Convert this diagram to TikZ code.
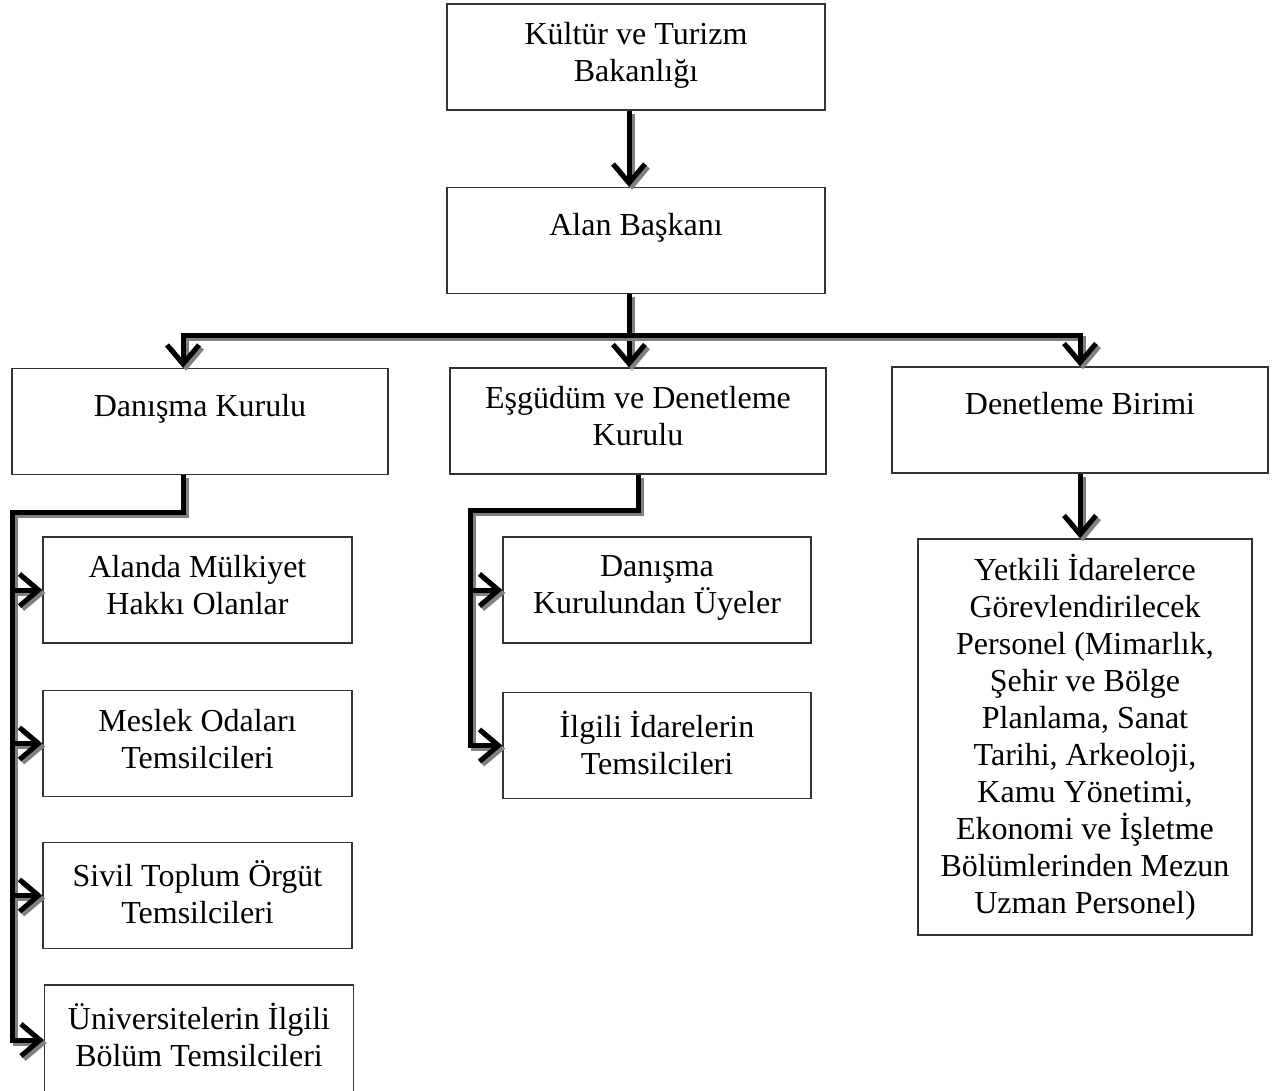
\documentclass[tikz,border=0pt]{standalone}
\usepackage{fontspec}
\setmainfont{Liberation Serif}
\usetikzlibrary{arrows.meta,positioning}

\begin{document}
\begin{tikzpicture}[x=1pt,y=-1pt,
kutu/.style={draw=black!80,line width=1.3pt,minimum width=#1,minimum height=106pt,inner sep=0pt},
kutu/.default=378pt,
yazi/.style={align=center,inner sep=0pt,font=\fontsize{32}{37}\selectfont,execute at begin node={\rule{0pt}{29pt}}},
hat/.style={line width=5pt,preaction={draw=black!50,line width=5pt,transform canvas={xshift=3pt,yshift=-3pt}}},
ok/.style={hat,-{Straight Barb[length=19pt,width=32pt]}}]
\useasboundingbox(0,0)rectangle(1273,1090);
% kutular
\node[kutu](bakanlik)at(636,57){};
\node[kutu](alan)at(636,240.5){};
\node[kutu=376pt](danisma)at(200,421.5){};
\node[kutu=376pt](esgudum)at(638,421){};
\node[kutu=376pt](denetleme)at(1080,420){};
\node[kutu=309pt](alanda)at(197.5,590){};
\node[kutu=309pt](meslek)at(197.5,743.5){};
\node[kutu=309pt](sivil)at(197.5,895.5){};
\node[kutu=309pt,minimum height=110pt](uni)at(199,1040){};
\node[kutu=308pt](uyeler)at(657,590){};
\node[kutu=308pt](ilgili)at(657,745.5){};
\node[kutu=334pt,minimum height=396pt](yetkili)at(1085,737){};
% yazilar
\node[yazi,below=19pt of bakanlik.north](bakanlikyazi){Kültür ve Turizm\\Bakanlığı};
\node[yazi,below=19pt of alan.north](alanyazi){Alan Başkanı};
\node[yazi,below=19pt of danisma.north](danismayazi){Danışma Kurulu};
\node[yazi,below=19pt of esgudum.north](esgudumyazi){Eşgüdüm ve Denetleme\\Kurulu};
\node[yazi,below=19pt of denetleme.north](denetlemeyazi){Denetleme Birimi};
\node[yazi,below=19pt of alanda.north](alandayazi){Alanda Mülkiyet\\Hakkı Olanlar};
\node[yazi,below=19pt of meslek.north](meslekyazi){Meslek Odaları\\Temsilcileri};
\node[yazi,below=19pt of sivil.north](sivilyazi){Sivil Toplum Örgüt\\Temsilcileri};
\node[yazi,below=19pt of uni.north](uniyazi){Üniversitelerin İlgili\\Bölüm Temsilcileri};
\node[yazi,below=19pt of uyeler.north](uyeleryazi){Danışma\\Kurulundan Üyeler};
\node[yazi,below=19pt of ilgili.north](ilgiliyazi){İlgili İdarelerin\\Temsilcileri};
\node[yazi,below=16pt of yetkili.north](yetkiliyazi){Yetkili İdarelerce\\Görevlendirilecek\\Personel (Mimarlık,\\Şehir ve Bölge\\Planlama, Sanat\\Tarihi, Arkeoloji,\\Kamu Yönetimi,\\Ekonomi ve İşletme\\Bölümlerinden Mezun\\Uzman Personel)};
% baglantilar
\coordinate(catal)at(629,335);
\coordinate(solkol)at(183,335);
\coordinate(sagkol)at(1080,335);
\coordinate(solhat)at(12,512);
\coordinate(orthat)at(470,510);
\draw[ok](bakanlik.south -| catal)--(alan.north -| catal);
\draw[hat](alan.south -| catal)--(catal);
\draw[ok](catal)--(esgudum.north -| catal);
\draw[ok](catal)-|(danisma.north -| solkol);
\draw[ok](catal)-|(denetleme.north -| sagkol);
\draw[ok](danisma.south -| solkol)|-(solhat)|-(uni.west);
\foreach \k in {alanda,meslek,sivil}
\draw[ok](solhat |- \k.west)--(\k.west);
\draw[ok](esgudum.south)|-(orthat)|-(ilgili.west);
\draw[ok](orthat |- uyeler.west)--(uyeler.west);
\draw[ok](denetleme.south)--(denetleme.south |- yetkili.north);
\end{tikzpicture}
\end{document}
